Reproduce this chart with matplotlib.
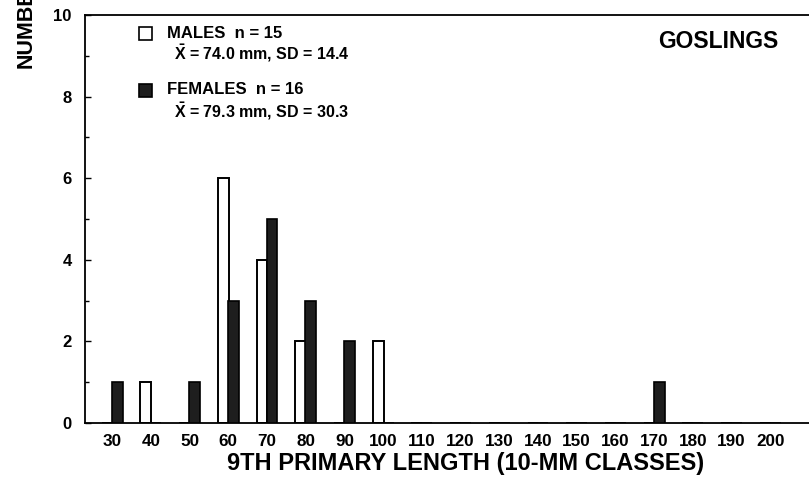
import matplotlib
matplotlib.use("Agg")
import matplotlib.pyplot as plt
import numpy as np
from matplotlib.patches import Rectangle

plt.rcParams['font.family'] = ['Liberation Sans', 'DejaVu Sans']
plt.rcParams['font.weight'] = 'bold'
plt.rcParams['mathtext.fontset'] = 'custom'
plt.rcParams['mathtext.rm'] = 'Liberation Sans:bold'
plt.rcParams['mathtext.bf'] = 'Liberation Sans:bold'
plt.rcParams['mathtext.it'] = 'Liberation Sans:bold'

classes = [30, 40, 50, 60, 70, 80, 90, 100, 110, 120, 130, 140, 150, 160, 170, 180, 190, 200]
males   = [0, 1, 0, 6, 4, 2, 0, 2, 0, 0, 0, 0, 0, 0, 0, 0, 0, 0]
females = [1, 0, 1, 3, 5, 3, 2, 0, 0, 0, 0, 0, 0, 0, 1, 0, 0, 0]
y_ticks = [0, 2, 4, 6, 8, 10]

fig = plt.figure(figsize=(8.09, 4.86), dpi=100)
ax = fig.add_axes([85/809, 1-423/486, 1-85/809, (423-15)/486])

x = np.arange(len(classes))
w = 0.28
off = 0.13
ax.bar(x - off, males, width=w, color='white', edgecolor='black', linewidth=1.4, zorder=2)
ax.bar(x + off, females, width=w, color='#1e1e1e', edgecolor='black', linewidth=1.2, zorder=3)

ax.set_xlim(-0.7, 18.0)
ax.set_ylim(0, 10)
ax.set_xticks(x)
ax.set_xticklabels([str(c) for c in classes], fontsize=12.3, fontweight='bold')
ax.set_yticks(y_ticks)
ax.set_yticks([1, 3, 5, 7, 9], minor=True)
ax.set_yticklabels([str(t) for t in y_ticks], fontsize=12, fontweight='bold')
ax.tick_params(axis='x', length=0, pad=8)
ax.tick_params(axis='y', which='major', direction='in', length=4, width=1, pad=9.5)
ax.tick_params(axis='y', which='minor', direction='in', length=3, width=1)
for s in ['left', 'bottom', 'top']:
    ax.spines[s].set_linewidth(1.3)
ax.spines['right'].set_visible(False)

ax.set_xlabel('9TH PRIMARY LENGTH (10-MM CLASSES)', fontsize=17, fontweight='bold')
ax.xaxis.set_label_coords((466 - 85) / (809 - 85), -(463 - 423) / (423 - 15))
ax.xaxis.label.set_va('center')
fig.text(26/809, 1-68/486, 'NUMBER', rotation=90, ha='center', va='bottom', fontsize=15.5, fontweight='bold')

# legend
trans = ax.transAxes
def ax_xy(px, py):
    return ((px - 85) / (809 - 85), (423 - py) / (423 - 15))

x0, y0 = ax_xy(139, 40)
x1, y1 = ax_xy(152, 27)
ax.add_patch(Rectangle((x0, y0), x1 - x0, y1 - y0, transform=trans, facecolor='white', edgecolor='black', lw=1.2, clip_on=False))
x0, y0 = ax_xy(139, 97)
x1, y1 = ax_xy(152, 84)
ax.add_patch(Rectangle((x0, y0), x1 - x0, y1 - y0, transform=trans, facecolor='#1e1e1e', edgecolor='black', lw=1.2, clip_on=False))

tx, ty = ax_xy(167, 33)
ax.text(tx, ty, 'MALES  n = 15', transform=trans, fontsize=12, fontweight='bold', va='center', ha='left')
tx, ty = ax_xy(174, 53)
ax.text(tx, ty, r'$\bar{\mathrm{X}}$ = 74.0 mm, SD = 14.4', transform=trans, fontsize=11.5, fontweight='bold', va='center', ha='left')
tx, ty = ax_xy(167, 90)
ax.text(tx, ty, 'FEMALES  n = 16', transform=trans, fontsize=12, fontweight='bold', va='center', ha='left')
tx, ty = ax_xy(174, 111)
ax.text(tx, ty, r'$\bar{\mathrm{X}}$ = 79.3 mm, SD = 30.3', transform=trans, fontsize=11.5, fontweight='bold', va='center', ha='left')

tx, ty = ax_xy(718, 42)
ax.text(tx, ty, 'GOSLINGS', transform=trans, fontsize=16.5, fontweight='bold', va='center', ha='center')

fig.savefig('out.png', dpi=100)
